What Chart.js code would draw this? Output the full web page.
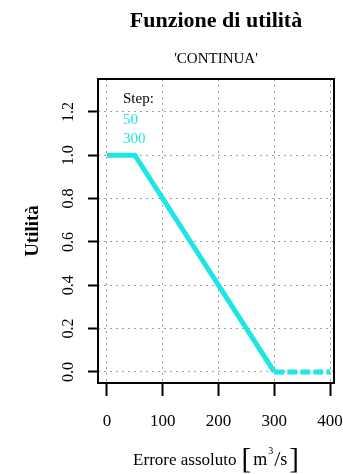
<!DOCTYPE html>
<html><head><meta charset="utf-8">
<script src="https://cdn.jsdelivr.net/npm/chart.js@4.4.1/dist/chart.umd.min.js"></script>
<style>html,body{margin:0;padding:0;background:#fff}#wrap{width:343px;height:474px}</style>
</head><body><div id="wrap"><canvas id="c" width="343" height="474"></canvas></div>
<script>
const errore = [0, 50, 300, 400];
const utilita = [1, 1, 0, 0];
const xTicks = [0, 100, 200, 300, 400];
const xTickLabels = ['0', '100', '200', '300', '400'];
const yTicks = [0, 0.2, 0.4, 0.6, 0.8, 1.0, 1.2];
const yTickLabels = ['0.0', '0.2', '0.4', '0.6', '0.8', '1.0', '1.2'];
const legendTitle = 'Step:';
const stepLabels = ['50', '300'];
const titleText = 'Funzione di utilità';
const subtitleText = "'CONTINUA'";
const yTitle = 'Utilità';
const xTitleMain = 'Errore assoluto';

const CYAN = '#1ee6e6';
const SERIF = "'Liberation Serif', 'DejaVu Serif', serif";

const textPlugin = {
  id: 'rtext',
  afterDraw(chart) {
    const ctx = chart.ctx, a = chart.chartArea;
    const sx = chart.scales.x, sy = chart.scales.y;
    ctx.save();
    // box
    ctx.strokeStyle = '#000'; ctx.lineWidth = 2;
    ctx.strokeRect(a.left, a.top, a.right - a.left, a.bottom - a.top);
    ctx.fillStyle = '#000';
    const cx = (a.left + a.right) / 2;
    // titles
    ctx.textAlign = 'center'; ctx.textBaseline = 'alphabetic';
    ctx.font = 'bold 22px ' + SERIF;
    ctx.fillText(titleText, cx, 27);
    ctx.font = '15px ' + SERIF;
    ctx.fillText(subtitleText, cx, 63);
    // x tick labels
    ctx.font = '17px ' + SERIF;
    xTicks.forEach((v, i) => ctx.fillText(xTickLabels[i], sx.getPixelForValue(v), 426));
    // y tick labels
    ctx.font = '16px ' + SERIF;
    yTicks.forEach((v, i) => {
      ctx.save();
      ctx.translate(73, sy.getPixelForValue(v));
      ctx.rotate(-Math.PI / 2);
      ctx.fillText(yTickLabels[i], 0, 0);
      ctx.restore();
    });
    // y title
    ctx.save();
    ctx.translate(38, 231);
    ctx.rotate(-Math.PI / 2);
    ctx.font = 'bold 19px ' + SERIF;
    ctx.fillText(yTitle, 0, 0);
    ctx.restore();
    // legend
    ctx.textAlign = 'left';
    ctx.font = '15px ' + SERIF;
    ctx.fillText(legendTitle, a.left + 25, 103);
    ctx.fillStyle = CYAN;
    ctx.fillText(stepLabels[0], a.left + 25, 124);
    ctx.fillText(stepLabels[1], a.left + 25, 143);
    // x title with bracketed unit
    ctx.fillStyle = '#000';
    const parts = [
      {t: xTitleMain, f: '17px ' + SERIF, dy: 0, gap: 5},
      {t: '[', f: '29px ' + SERIF, dy: 3, gap: 2},
      {t: 'm', f: '18px ' + SERIF, dy: 0, gap: 1},
      {t: '3', f: '10px ' + SERIF, dy: -11, gap: 1},
      {t: '/', f: '22px ' + SERIF, dy: 1, gap: 0},
      {t: 's', f: '18px ' + SERIF, dy: 0, gap: 2},
      {t: ']', f: '29px ' + SERIF, dy: 3, gap: 0}
    ];
    let total = 0;
    parts.forEach(p => { ctx.font = p.f; p.w = ctx.measureText(p.t).width; total += p.w + p.gap; });
    let x = cx - total / 2;
    parts.forEach(p => { ctx.font = p.f; ctx.fillText(p.t, x, 465 + p.dy); x += p.w + p.gap; });
    ctx.restore();
  }
};

const gridOpts = {
  color: '#a0a0a0', lineWidth: 1,
  drawTicks: true, tickLength: 13, tickColor: '#000', tickWidth: 2, tickBorderDash: []
};

new Chart(document.getElementById('c'), {
  type: 'line',
  data: {
    datasets: [{
      data: errore.map((x, i) => ({x: x, y: utilita[i]})),
      borderColor: CYAN,
      borderWidth: 5,
      pointRadius: 0,
      tension: 0,
      fill: false,
      segment: {
        borderDash: c => (c.p0.parsed.x >= 300 ? [10, 3] : undefined)
      }
    }]
  },
  options: {
    responsive: false,
    animation: false,
    events: [],
    layout: {padding: {top: 79, right: 9, bottom: 0, left: 0}},
    plugins: {legend: {display: false}, tooltip: {enabled: false}, title: {display: false}},
    scales: {
      x: {
        type: 'linear', min: -16, max: 407,
        afterBuildTicks: s => { s.ticks = xTicks.map(v => ({value: v})); },
        afterFit: s => { s.height = 91; },
        ticks: {display: false},
        grid: gridOpts,
        border: {display: false, dash: [2, 4]}
      },
      y: {
        type: 'linear', min: -0.051, max: 1.352,
        afterBuildTicks: s => { s.ticks = yTicks.map(v => ({value: v})); },
        afterFit: s => { s.width = 98; },
        ticks: {display: false},
        grid: Object.assign({}, gridOpts, {tickLength: 10}),
        border: {display: false, dash: [2, 4]}
      }
    }
  },
  plugins: [textPlugin]
});
</script></body></html>
